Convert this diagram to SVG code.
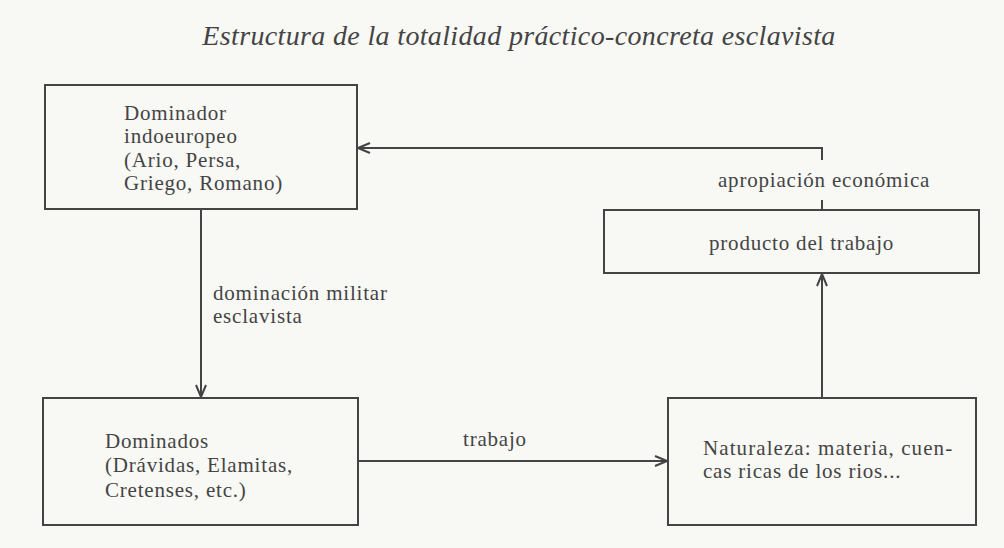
<svg xmlns="http://www.w3.org/2000/svg" width="1004" height="548" viewBox="0 0 1004 548">
<style>
.box{fill:none;stroke:#444;stroke-width:2}
.ln{fill:none;stroke:#444;stroke-width:2}
text{font-family:"Liberation Serif","Times New Roman",serif;fill:#444;font-size:21px;letter-spacing:0.8px}
.title{font-style:italic;font-size:28px;letter-spacing:0.35px}
</style>
<defs>
<marker id="ah" viewBox="0 0 14 12" refX="13" refY="6" markerWidth="14" markerHeight="12" markerUnits="userSpaceOnUse" orient="auto">
<path d="M1,1 L13,6 L1,11" fill="none" stroke="#444" stroke-width="2"/>
</marker>
</defs>
<rect width="1004" height="548" fill="#f8f8f5"/>
<text class="title" x="519" y="45" text-anchor="middle">Estructura de la totalidad práctico-concreta esclavista</text>
<g id="dominador">
<rect class="box" x="45" y="85" width="312" height="124"/>
<text x="124" y="120">Dominador</text>
<text x="124" y="143">indoeuropeo</text>
<text x="124" y="167">(Ario, Persa,</text>
<text x="124" y="190">Griego, Romano)</text>
</g>
<g id="producto">
<rect class="box" x="604" y="210" width="375" height="63"/>
<text x="709" y="250">producto del trabajo</text>
</g>
<g id="dominados">
<rect class="box" x="43" y="398" width="315" height="127"/>
<text x="105" y="448">Dominados</text>
<text x="105" y="472">(Drávidas, Elamitas,</text>
<text x="105" y="497">Cretenses, etc.)</text>
</g>
<g id="naturaleza">
<rect class="box" x="668" y="398" width="308" height="127"/>
<text x="703" y="455" textLength="250" lengthAdjust="spacing">Naturaleza: materia, cuen-</text>
<text x="703" y="478">cas ricas de los rios...</text>
</g>
<g id="connectors">
<path class="ln" d="M822,210 V200"/>
<path class="ln" d="M822,160 V148 H358" marker-end="url(#ah)"/>
<text x="718" y="187">apropiación económica</text>
<path class="ln" d="M201,209 V397" marker-end="url(#ah)"/>
<text x="213" y="300">dominación militar</text>
<text x="213" y="323">esclavista</text>
<path class="ln" d="M358,461 H667" marker-end="url(#ah)"/>
<text x="463" y="446">trabajo</text>
<path class="ln" d="M822,398 V274" marker-end="url(#ah)"/>
</g>
</svg>
